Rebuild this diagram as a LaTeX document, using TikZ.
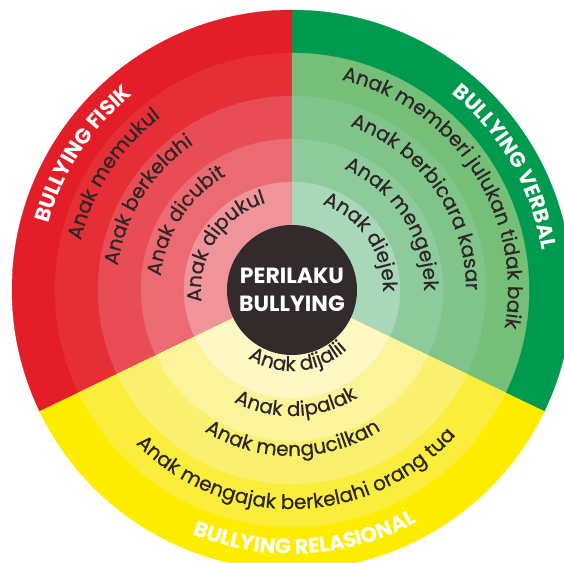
\documentclass[tikz,border=0pt]{standalone}
\usepackage{fontspec}
\setmainfont{Poppins}
\newfontfamily\ringfam{Poppins}[FakeBold=0.5]
\usetikzlibrary{decorations.text}

\definecolor{fisikA}{RGB}{227,30,41}
\definecolor{fisikB}{RGB}{229,46,54}
\definecolor{fisikC}{RGB}{232,76,84}
\definecolor{fisikD}{RGB}{236,107,115}
\definecolor{fisikE}{RGB}{240,148,155}
\definecolor{verbalA}{RGB}{0,154,78}
\definecolor{verbalB}{RGB}{117,191,120}
\definecolor{verbalC}{RGB}{128,196,138}
\definecolor{verbalD}{RGB}{141,203,156}
\definecolor{verbalE}{RGB}{168,215,185}
\definecolor{relasiA}{RGB}{255,237,0}
\definecolor{relasiB}{RGB}{250,237,60}
\definecolor{relasiC}{RGB}{250,240,112}
\definecolor{relasiD}{RGB}{251,244,155}
\definecolor{relasiE}{RGB}{254,248,196}
\definecolor{coredark}{RGB}{50,42,43}
\definecolor{txtdark}{RGB}{45,38,39}

\newcommand\ringfont{\ringfam\fontsize{20}{20}\selectfont}
\newcommand\headfont{\bfseries\fontsize{21}{21}\selectfont}

\begin{document}
\begin{tikzpicture}[x=1pt,y=1pt,
    cwtext/.style={decorate,decoration={text along path,text align=center,text color=txtdark,text={|\ringfont|#1}}},
    headtext/.style={decorate,decoration={text along path,text align=center,text color=white,text={|\headfont|#1}}}]
\useasboundingbox (-292,-272) rectangle (272,290);
% rings, outer first
\foreach \r/\col in {280/fisikA,237/fisikB,194/fisikC,151/fisikD,108/fisikE}
    \filldraw[\col,line width=0.3] (0,0) -- (90:\r) arc[start angle=90,end angle=205.7,radius=\r] -- cycle;
\foreach \r/\col in {280/verbalA,237/verbalB,194/verbalC,151/verbalD,108/verbalE}
    \filldraw[\col,line width=0.3] (0,0) -- (-25.7:\r) arc[start angle=-25.7,end angle=90,radius=\r] -- cycle;
\foreach \r/\col in {280/relasiA,237/relasiB,194/relasiC,151/relasiD,108/relasiE}
    \filldraw[\col,line width=0.3] (0,0) -- (205.7:\r) arc[start angle=205.7,end angle=334.3,radius=\r] -- cycle;
% core
\node[circle,fill=coredark,minimum size=130,inner sep=0,text=white,align=center,
    font=\bfseries\fontsize{22}{28}\selectfont] (core) at (0,0) {PERILAKU\\BULLYING};
% fisik
\path[cwtext={Anak dipukul}] (227:91) arc[start angle=227,end angle=67,radius=91];
\path[cwtext={Anak dicubit}] (227:132) arc[start angle=227,end angle=67,radius=132];
\path[cwtext={Anak berkelahi}] (228:176) arc[start angle=228,end angle=68,radius=176];
\path[cwtext={Anak memukul}] (227:217) arc[start angle=227,end angle=67,radius=217];
\path[headtext={BULLYING FISIK}] (227:252) arc[start angle=227,end angle=67,radius=252];
% verbal
\path[cwtext={Anak diejek}] (114.7:91) arc[start angle=114.7,end angle=-45.3,radius=91];
\path[cwtext={Anak mengejek}] (113.2:132) arc[start angle=113.2,end angle=-46.8,radius=132];
\path[cwtext={Anak berbicara kasar}] (115.2:174) arc[start angle=115.2,end angle=-44.8,radius=174];
\path[cwtext={Anak memberi julukan tidak baik}] (113.3:216) arc[start angle=113.3,end angle=-46.7,radius=216];
\path[headtext={BULLYING VERBAL}] (110:253) arc[start angle=110,end angle=-50,radius=253];
% relasional
\path[cwtext={Anak dijalii}] (195:81) arc[start angle=195,end angle=355,radius=81];
\path[cwtext={Anak dipalak}] (192:126) arc[start angle=192,end angle=352,radius=126];
\path[cwtext={Anak mengucilkan}] (190.3:166) arc[start angle=190.3,end angle=350.3,radius=166];
\path[cwtext={Anak mengajak berkelahi orang tua}] (191.5:219) arc[start angle=191.5,end angle=351.5,radius=219];
\path[headtext={BULLYING RELASIONAL}] (193.1:264) arc[start angle=193.1,end angle=353.1,radius=264];
\end{tikzpicture}
\end{document}
